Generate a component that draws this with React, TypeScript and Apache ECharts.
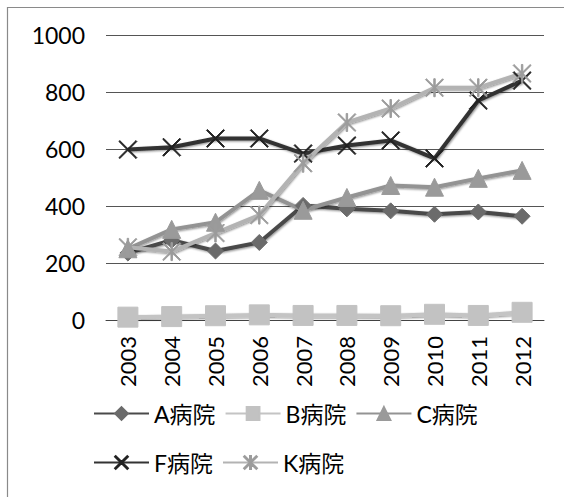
import React, { useEffect, useRef } from "react";
import * as echarts from "echarts";

const years = ["2003", "2004", "2005", "2006", "2007", "2008", "2009", "2010", "2011", "2012"];
const hospitalA = [235, 280, 242, 272, 402, 390, 383, 371, 379, 364];
const hospitalB = [10, 12, 15, 18, 16, 16, 15, 20, 16, 27];
const hospitalC = [250, 318, 343, 455, 385, 430, 472, 466, 497, 525];
const hospitalF = [598, 606, 637, 637, 584, 612, 630, 567, 770, 840];
const hospitalK = [255, 240, 305, 368, 550, 693, 742, 815, 815, 865];
const yTicks = [0, 200, 400, 600, 800, 1000];

const FONT = "Lato, 'Noto Sans CJK JP', sans-serif";

// cross marker (two thin diagonal bars)
const CROSS =
  "path://M0,1 L1,0 L20,19 L19,20 Z M19,0 L20,1 L1,20 L0,19 Z";
// asterisk marker (cross plus a vertical bar)
const STAR =
  "path://M0,1 L1,0 L20,19 L19,20 Z M19,0 L20,1 L1,20 L0,19 Z M9.2,0 L10.8,0 L10.8,20 L9.2,20 Z";

function lineSeries(
  name: string,
  data: number[],
  lineColor: string,
  markColor: string,
  symbol: string,
  symbolSize: number
) {
  return {
    name,
    type: "line",
    data,
    symbol,
    symbolSize,
    showSymbol: true,
    lineStyle: {
      color: lineColor,
      width: 4,
      shadowColor: "rgba(0,0,0,0.45)",
      shadowBlur: 2,
      shadowOffsetX: 1,
      shadowOffsetY: 1,
    },
    itemStyle: {
      color: markColor,
      borderColor: markColor,
      borderWidth: 1,
      opacity: 1,
    },
    emphasis: { disabled: true },
  };
}

export default function App() {
  const ref = useRef<HTMLDivElement>(null);

  useEffect(() => {
    if (!ref.current) return;
    const chart = echarts.init(ref.current, undefined, { renderer: "svg" });
    const legendText = { fontFamily: FONT, fontSize: 23, color: "#000" };
    chart.setOption({
      animation: false,
      backgroundColor: "#fff",
      graphic: [
        {
          type: "rect",
          shape: { x: 7.5, y: 7.5, width: 620, height: 560 },
          style: { fill: "none", stroke: "#8a8a8a", lineWidth: 1.2 },
          silent: true,
        },
      ],
      grid: { left: 106, right: 20, top: 35, bottom: 177 },
      legend: [
        {
          data: ["A病院", "B病院", "C病院"],
          left: 93,
          top: 402,
          padding: 0,
          itemWidth: 55,
          itemHeight: 16,
          itemGap: 9,
          textStyle: legendText,
        },
        {
          data: ["F病院", "K病院"],
          left: 93,
          top: 451,
          padding: 0,
          itemWidth: 55,
          itemHeight: 16,
          itemGap: 9,
          textStyle: legendText,
        },
      ],
      xAxis: {
        type: "category",
        data: years,
        boundaryGap: true,
        axisLine: { show: true, lineStyle: { color: "#444", width: 1 } },
        axisTick: { show: false },
        axisLabel: {
          rotate: 90,
          margin: 16,
          fontFamily: FONT,
          fontSize: 22,
          color: "#000",
        },
      },
      yAxis: {
        type: "value",
        min: yTicks[0],
        max: yTicks[yTicks.length - 1],
        interval: 200,
        axisLine: { show: false },
        axisTick: { show: false },
        splitLine: { lineStyle: { color: "#555", width: 1 } },
        axisLabel: {
          margin: 21,
          fontFamily: FONT,
          fontSize: 23,
          color: "#000",
          formatter: (v: number) => String(v),
        },
      },
      series: [
        lineSeries("A病院", hospitalA, "#4a4a4a", "#6b6b6b", "diamond", 16),
        lineSeries("B病院", hospitalB, "#c4c4c4", "#c2c2c2", "rect", 20),
        lineSeries("C病院", hospitalC, "#939393", "#9a9a9a", "triangle", 18),
        lineSeries("F病院", hospitalF, "#333333", "#222222", CROSS, 18),
        lineSeries("K病院", hospitalK, "#b3b3b3", "#9c9c9c", STAR, 18),
      ],
    });
    return () => chart.dispose();
  }, []);

  return (
    <div
      ref={ref}
      style={{ position: "absolute", left: 0, top: 0, width: 564, height: 497 }}
    />
  );
}
